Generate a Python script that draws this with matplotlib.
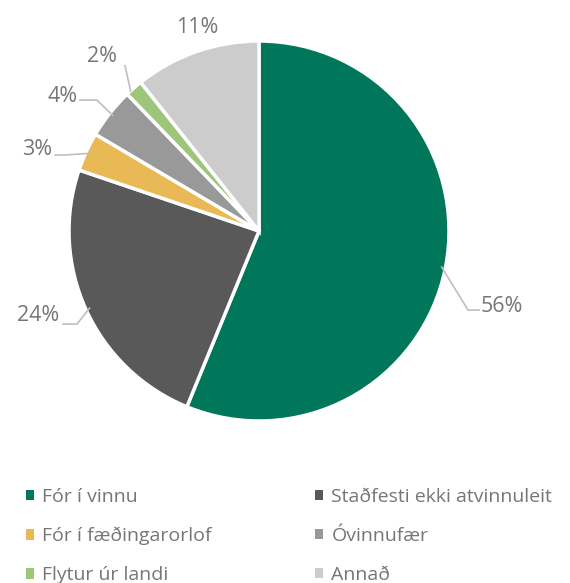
import matplotlib.pyplot as plt
from matplotlib.patches import Patch
import numpy as np

# data
categories = ["Fór í vinnu", "Staðfesti ekki atvinnuleit", "Fór í fæðingarorlof",
              "Óvinnufær", "Flytur úr landi", "Annað"]
values = [56.2, 24.0, 3.3, 4.3, 1.5, 10.7]
pct_labels = ["56%", "24%", "3%", "4%", "2%", "11%"]

colors = ["#00775B", "#595959", "#E9B955", "#999999", "#9DC67B", "#CCCCCC"]
txt_col = "#767676"
line_col = "#BFBFBF"

plt.rcParams['font.family'] = ['Open Sans', 'DejaVu Sans']

fig = plt.figure(figsize=(5.70, 5.83), dpi=100)
ax = fig.add_axes([0, 0, 1, 1])

wedges, _ = ax.pie(values, colors=colors, startangle=90, counterclock=False, radius=1,
                   wedgeprops=dict(edgecolor="white", linewidth=2.5))

# pie centre at (259,231) px, radius 190 px
R = 190.0
ax.set_xlim(-259 / R, (570 - 259) / R)
ax.set_ylim(-(583 - 231) / R, 231 / R)
ax.set_aspect('auto')
ax.axis('off')

# label positions: text xy, elbow xy, end xy, ha
label_pos = [
    ((1.168, -0.40), (1.10, -0.416), (1.158, -0.416), 'left'),
    ((-1.05, -0.445), (-0.958, -0.49), (-1.032, -0.49), 'right'),
    ((-1.09, 0.43), (-1.02, 0.40), (-1.073, 0.40), 'right'),
    ((-0.955, 0.71), (-0.853, 0.689), (-0.942, 0.689), 'right'),
    ((-0.826, 0.916), None, (-0.705, 0.87), 'center'),
    ((-0.326, 1.07), None, None, 'center'),
]

for w, lab, (txy, elbow, end, ha) in zip(wedges, pct_labels, label_pos):
    mid = np.deg2rad((w.theta1 + w.theta2) / 2)
    ex, ey = np.cos(mid) * 0.98, np.sin(mid) * 0.98
    if end is not None:
        if elbow is not None:
            ax.plot([ex, elbow[0], end[0]], [ey, elbow[1], end[1]], color=line_col, lw=1.2)
        else:
            ax.plot([ex - 0.03, end[0]], [ey, end[1]], color=line_col, lw=1.2)
    ax.text(txy[0], txy[1], lab, ha=ha, va='center', fontsize=15.5, color=txt_col)

# legend fills column by column -> reorder so it reads row by row
order = [0, 2, 4, 1, 3, 5]
handles = [Patch(facecolor=colors[i], edgecolor='none') for i in order]
ax.legend(handles, [categories[i] for i in order], loc='upper left',
          bbox_to_anchor=(0.045, 0.163),
          ncol=2, frameon=False, fontsize=14, labelcolor=txt_col,
          handlelength=0.45, handleheight=0.45, handletextpad=0.4,
          labelspacing=1.08, columnspacing=5.3, borderpad=0, borderaxespad=0)

fig.savefig("out.png", dpi=100)
